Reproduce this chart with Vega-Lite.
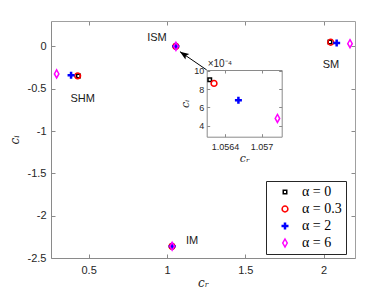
{
  "$schema": "https://vega.github.io/schema/vega-lite/v6.json",
  "width": 304,
  "height": 237,
  "autosize": {"type": "none"},
  "padding": {"left": 51, "top": 21, "right": 37, "bottom": 36},
  "background": "white",
  "config": {
    "view": {"stroke": null},
    "font": "Liberation Sans",
    "axis": {
      "labelFont": "Liberation Sans",
      "labelFontSize": 11,
      "labelColor": "#262626",
      "domainColor": "#8a8a8a",
      "tickColor": "#8a8a8a",
      "grid": false,
      "labelFlush": false,
      "labelOverlap": false,
      "titleFont": "DejaVu Serif",
      "titleFontStyle": "italic",
      "titleFontWeight": "normal",
      "titleFontSize": 12,
      "titleColor": "#262626",
      "tickSize": -4
    },
    "legend": {
      "orient": "none",
      "legendX": 215,
      "legendY": 160,
      "padding": 4,
      "strokeColor": "#262626",
      "fillColor": "white",
      "labelFont": "Liberation Serif",
      "labelFontSize": 14,
      "labelColor": "black",
      "symbolSize": 100,
      "symbolStrokeWidth": 1.5,
      "rowPadding": 3,
      "symbolOffset": 8,
      "labelOffset": 10
    }
  },
  "datasets": {
    "pts": [
      {"mode": "SHM", "alpha": "0", "cr": 0.435, "ci": -0.349},
      {"mode": "SHM", "alpha": "0.3", "cr": 0.43, "ci": -0.348},
      {"mode": "SHM", "alpha": "2", "cr": 0.388, "ci": -0.341},
      {"mode": "SHM", "alpha": "6", "cr": 0.296, "ci": -0.325},
      {"mode": "ISM", "alpha": "0", "cr": 1.05615, "ci": 0.000903},
      {"mode": "ISM", "alpha": "0.3", "cr": 1.05622, "ci": 0.000863},
      {"mode": "ISM", "alpha": "2", "cr": 1.05662, "ci": 0.00068},
      {"mode": "ISM", "alpha": "6", "cr": 1.05726, "ci": 0.00048},
      {"mode": "SM", "alpha": "0", "cr": 2.04, "ci": 0.052},
      {"mode": "SM", "alpha": "0.3", "cr": 2.045, "ci": 0.049},
      {"mode": "SM", "alpha": "2", "cr": 2.083, "ci": 0.04},
      {"mode": "SM", "alpha": "6", "cr": 2.168, "ci": 0.032},
      {"mode": "IM", "alpha": "0", "cr": 1.032, "ci": -2.362},
      {"mode": "IM", "alpha": "0.3", "cr": 1.032, "ci": -2.362},
      {"mode": "IM", "alpha": "2", "cr": 1.033, "ci": -2.362},
      {"mode": "IM", "alpha": "6", "cr": 1.033, "ci": -2.362}
    ],
    "labels": [
      {"label": "ISM", "cr": 0.936, "ci": 0.099},
      {"label": "SHM", "cr": 0.462, "ci": -0.62},
      {"label": "SM", "cr": 2.047, "ci": -0.219},
      {"label": "IM", "cr": 1.16, "ci": -2.304}
    ],
    "arrow": [{"cr": 1.2536, "ci": -0.278, "cr2": 1.083, "ci2": -0.062}],
    "frame": [{"cr": 0.26, "ci": -2.5}],
    "insetframe": [{"cr": 1.0561, "ci": 0.00028}]
  },
  "layer": [
    {
      "layer": [
        {
          "mark": {"type": "rule", "color": "#7a7a7a", "strokeWidth": 1.8, "strokeDash": [7, 5]},
          "encoding": {
            "y": {"datum": 0, "type": "quantitative", "scale": {"domain": [-2.5, 0.3], "nice": false, "zero": false}}
          }
        },
        {
          "data": {"name": "arrow"},
          "mark": {"type": "rule", "color": "black", "strokeWidth": 1},
          "encoding": {
            "x": {"field": "cr", "type": "quantitative", "scale": {"domain": [0.26, 2.2], "nice": false, "zero": false}},
            "y": {"field": "ci", "type": "quantitative", "scale": {"domain": [-2.5, 0.3], "nice": false, "zero": false}},
            "x2": {"field": "cr2"},
            "y2": {"field": "ci2"}
          }
        },
        {
          "data": {"name": "arrow"},
          "mark": {"type": "point", "shape": "M0,0L0.38,1L0,0.8L-0.38,1Z", "filled": true, "color": "black", "opacity": 1, "size": 324, "angle": 304.4},
          "encoding": {
            "x": {"field": "cr2", "type": "quantitative", "scale": {"domain": [0.26, 2.2], "nice": false, "zero": false}},
            "y": {"field": "ci2", "type": "quantitative", "scale": {"domain": [-2.5, 0.3], "nice": false, "zero": false}}
          }
        },
        {
          "data": {"name": "labels"},
          "mark": {"type": "text", "font": "Liberation Sans", "fontSize": 11, "color": "#1a1a1a", "align": "center", "baseline": "middle"},
          "encoding": {
            "x": {"field": "cr", "type": "quantitative", "scale": {"domain": [0.26, 2.2], "nice": false, "zero": false}},
            "y": {"field": "ci", "type": "quantitative", "scale": {"domain": [-2.5, 0.3], "nice": false, "zero": false}},
            "text": {"field": "label"}
          }
        },
        {
          "data": {"name": "pts"},
          "mark": {"type": "point", "filled": false, "strokeWidth": 1.5, "size": 100, "opacity": 1},
          "encoding": {
            "x": {
              "field": "cr", "type": "quantitative",
              "scale": {"domain": [0.26, 2.2], "nice": false, "zero": false},
              "axis": {"orient": "bottom", "title": "cᵣ", "values": [0.5, 1, 1.5, 2], "labelExpr": "'' + datum.value", "labelPadding": 10, "titlePadding": 2}
            },
            "y": {
              "field": "ci", "type": "quantitative",
              "scale": {"domain": [-2.5, 0.3], "nice": false, "zero": false},
              "axis": {"orient": "left", "title": "cᵢ", "values": [-2.5, -2, -1.5, -1, -0.5, 0], "labelExpr": "'' + datum.value", "labelPadding": 9, "titlePadding": 6}
            },
            "color": {
              "field": "alpha", "type": "nominal",
              "scale": {"domain": ["0", "0.3", "2", "6"], "range": ["#000000", "#ff0000", "#0000ff", "#ff00ff"]},
              "legend": {"title": null, "labelExpr": "'α = ' + datum.label"}
            },
            "shape": {
              "field": "alpha", "type": "nominal",
              "scale": {"domain": ["0", "0.3", "2", "6"], "range": ["M-0.35,-0.35L0.35,-0.35L0.35,0.35L-0.35,0.35Z", "M0.58,0A0.58,0.58,0,1,1,-0.58,0A0.58,0.58,0,1,1,0.58,0Z", "M-0.55,-0.1H-0.1V-0.55H0.1V-0.1H0.55V0.1H0.1V0.55H-0.1V0.1H-0.55Z", "M0,-0.8L0.45,0L0,0.8L-0.45,0Z"]},
              "legend": {"title": null, "labelExpr": "'α = ' + datum.label"}
            }
          }
        }
      ]
    },
    {
      "data": {"name": "frame"},
      "mark": {"type": "point", "opacity": 0},
      "encoding": {
        "x": {
          "field": "cr", "type": "quantitative",
          "scale": {"domain": [0.26, 2.2], "nice": false, "zero": false},
          "axis": {"orient": "top", "title": null, "labels": false, "values": [0.5, 1, 1.5, 2], "domainColor": "#a0a0a0"}
        },
        "y": {
          "field": "ci", "type": "quantitative",
          "scale": {"domain": [-2.5, 0.3], "nice": false, "zero": false},
          "axis": {"orient": "right", "title": null, "labels": false, "values": [-2.5, -2, -1.5, -1, -0.5, 0], "domainColor": "#a0a0a0"}
        }
      }
    },
    {
      "layer": [
        {
          "data": {"name": "pts"},
          "transform": [{"filter": "datum.mode === 'ISM'"}],
          "mark": {"type": "point", "filled": false, "strokeWidth": 1.5, "size": 100, "opacity": 1},
          "encoding": {
            "x": {
              "field": "cr", "type": "quantitative",
              "scale": {"domain": [1.0561, 1.05733], "range": [155.7, 230.7], "nice": false, "zero": false},
              "axis": {"orient": "bottom", "offset": -121.3, "title": "cᵣ", "titleFontSize": 11, "values": [1.0564, 1.057], "labelExpr": "'' + datum.value", "labelFontSize": 9, "tickSize": -3, "labelPadding": 9, "titlePadding": 1}
            },
            "y": {
              "field": "ci", "type": "quantitative",
              "scale": {"domain": [0.00028, 0.00101], "range": [115.7, 49], "nice": false, "zero": false},
              "axis": {"orient": "left", "offset": -155.7, "title": "cᵢ", "titleFontSize": 11, "values": [0.0004, 0.0006, 0.0008, 0.001], "labelExpr": "'' + round(datum.value * 10000)", "labelFontSize": 9, "tickSize": -3, "labelPadding": 6, "titlePadding": 3}
            },
            "color": {
              "field": "alpha", "type": "nominal",
              "scale": {"domain": ["0", "0.3", "2", "6"], "range": ["#000000", "#ff0000", "#0000ff", "#ff00ff"]},
              "legend": {"title": null, "labelExpr": "'α = ' + datum.label"}
            },
            "shape": {
              "field": "alpha", "type": "nominal",
              "scale": {"domain": ["0", "0.3", "2", "6"], "range": ["M-0.35,-0.35L0.35,-0.35L0.35,0.35L-0.35,0.35Z", "M0.58,0A0.58,0.58,0,1,1,-0.58,0A0.58,0.58,0,1,1,0.58,0Z", "M-0.55,-0.1H-0.1V-0.55H0.1V-0.1H0.55V0.1H0.1V0.55H-0.1V0.1H-0.55Z", "M0,-0.8L0.45,0L0,0.8L-0.45,0Z"]},
              "legend": {"title": null, "labelExpr": "'α = ' + datum.label"}
            }
          }
        },
        {
          "data": {"name": "insetframe"},
          "mark": {"type": "text", "text": "×10⁻⁴", "font": "Liberation Sans", "fontSize": 10, "color": "#262626", "align": "left", "baseline": "bottom", "dy": -1, "dx": 1},
          "encoding": {
            "x": {"field": "cr", "type": "quantitative", "scale": {"domain": [1.0561, 1.05733], "range": [155.7, 230.7], "nice": false, "zero": false}},
            "y": {"datum": 0.00101, "type": "quantitative", "scale": {"domain": [0.00028, 0.00101], "range": [115.7, 49], "nice": false, "zero": false}}
          }
        }
      ]
    },
    {
      "data": {"name": "insetframe"},
      "mark": {"type": "point", "opacity": 0},
      "encoding": {
        "x": {
          "field": "cr", "type": "quantitative",
          "scale": {"domain": [1.0561, 1.05733], "range": [155.7, 230.7], "nice": false, "zero": false},
          "axis": {"orient": "top", "offset": -49, "title": null, "labels": false, "values": [1.0564, 1.057], "tickSize": -3}
        },
        "y": {
          "field": "ci", "type": "quantitative",
          "scale": {"domain": [0.00028, 0.00101], "range": [115.7, 49], "nice": false, "zero": false},
          "axis": {"orient": "right", "offset": -73.3, "title": null, "labels": false, "values": [0.0004, 0.0006, 0.0008, 0.001], "tickSize": -3}
        }
      }
    }
  ],
  "resolve": {"scale": {"x": "independent", "y": "independent"}}
}
